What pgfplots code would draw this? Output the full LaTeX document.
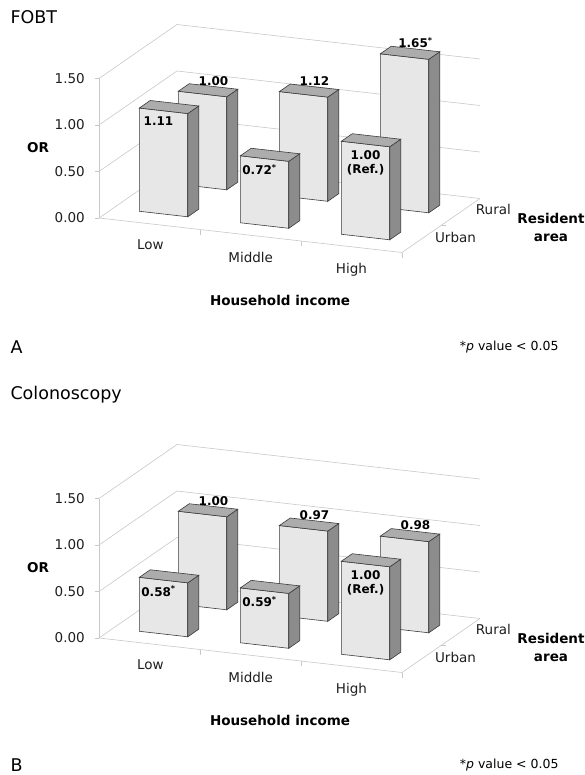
\documentclass[border=0pt]{standalone}
\usepackage{pgfplots}
\pgfplotsset{compat=1.18}
\usepackage{fontspec}
\setmainfont{DejaVu Sans}
\definecolor{frontc}{RGB}{231,231,231}
\definecolor{sidec}{RGB}{140,140,140}
\definecolor{topc}{RGB}{172,172,172}
\definecolor{edgec}{RGB}{60,60,60}
\definecolor{gridc}{RGB}{200,200,200}
\definecolor{textc}{RGB}{30,30,30}
\newcommand\regf{\fontsize{13.5}{15}\selectfont}
\newcommand\boldf{\fontsize{13.5}{18}\selectfont\bfseries}
\newcommand\valf{\fontsize{12}{14.5}\selectfont\bfseries}
\newcommand\titf{\fontsize{17.5}{20}\selectfont}
\newcommand\pf{\fontsize{12.5}{15}\selectfont}
% one 3D column: centre X, centre Y, height H
\newcommand\cube[3]{%
  \pgfmathsetmacro\xa{#1-0.24}\pgfmathsetmacro\xb{#1+0.24}%
  \pgfmathsetmacro\ya{#2-0.14}\pgfmathsetmacro\yb{#2+0.14}%
  \edef\tmp{%
    \noexpand\addplot3[fill=frontc,draw=edgec,line width=0.6pt] coordinates {(\xa,\ya,0) (\xb,\ya,0) (\xb,\ya,#3) (\xa,\ya,#3)} -- cycle;
    \noexpand\addplot3[fill=sidec,draw=edgec,line width=0.6pt] coordinates {(\xb,\ya,0) (\xb,\yb,0) (\xb,\yb,#3) (\xb,\ya,#3)} -- cycle;
    \noexpand\addplot3[fill=topc,draw=edgec,line width=0.6pt] coordinates {(\xa,\ya,#3) (\xb,\ya,#3) (\xb,\yb,#3) (\xa,\yb,#3)} -- cycle;
  }\tmp}
\pgfplotsset{panel/.style={
  anchor=origin,
  x={(101pt,-11.5pt)}, y={(39pt,27pt)}, z={(0pt,93pt)},
  xmin=0,xmax=3,ymin=0,ymax=2,zmin=0,zmax=1.5,
  axis line style={draw=none},
  xtick={0.5,1.5,2.5}, xticklabels={Low,Middle,High},
  ytick={0.5,1.5}, yticklabels={Urban,Rural},
  ztick={0,0.5,1,1.5}, zticklabels={},
  major tick length=0pt,
  zmajorgrids, grid style={draw=gridc,line width=0.6pt},
  tick label style={font=\regf, text=textc},
  x tick label style={xshift=6pt,yshift=-11pt},
  y tick label style={xshift=20pt,yshift=17pt},
  clip=false,
}}
\newcommand\axframe{%
  \draw[gridc,line width=0.6pt] (axis cs:0,0,0) -- (axis cs:0,0,1.5);
  \draw[gridc,line width=0.6pt] (axis cs:0,0,0) -- (axis cs:3,0,0) -- (axis cs:3,2,0);
  \draw[gridc,line width=0.6pt] (axis cs:0,0,0) -- ++(-4pt,0pt);
  \draw[gridc,line width=0.6pt] (axis cs:0,0,0.5) -- ++(-4pt,0pt);
  \draw[gridc,line width=0.6pt] (axis cs:0,0,1) -- ++(-4pt,0pt);
  \draw[gridc,line width=0.6pt] (axis cs:0,0,1.5) -- ++(-4pt,0pt);
  \draw[gridc,line width=0.6pt] (axis cs:1,0,0) -- ++(0pt,-5pt);
  \draw[gridc,line width=0.6pt] (axis cs:2,0,0) -- ++(0pt,-5pt);
  \draw[gridc,line width=0.6pt] (axis cs:3,0,0) -- ++(0pt,-5pt);
  \draw[gridc,line width=0.6pt] (axis cs:3,1,0) -- ++(5pt,0pt);
  \node[font=\regf,text=textc,anchor=east,inner sep=0pt,xshift=-14pt] at (axis cs:0,0,0) {0.00};
  \node[font=\regf,text=textc,anchor=east,inner sep=0pt,xshift=-14pt] at (axis cs:0,0,0.5) {0.50};
  \node[font=\regf,text=textc,anchor=east,inner sep=0pt,xshift=-14pt] at (axis cs:0,0,1) {1.00};
  \node[font=\regf,text=textc,anchor=east,inner sep=0pt,xshift=-14pt] at (axis cs:0,0,1.5) {1.50};
}
\begin{document}
\begin{tikzpicture}
\path[use as bounding box] (0,0) rectangle (585pt,-775pt);
% ---------------- Panel A: FOBT
\begin{axis}[panel, at={(99pt,-218pt)}]
  \axframe
  \cube{0.5}{1.5}{1.00}
  \cube{1.5}{1.5}{1.12}
  \cube{2.5}{1.5}{1.65}
  \cube{0.5}{0.5}{1.11}
  \cube{1.5}{0.5}{0.72}
  \cube{2.5}{0.5}{1.00}
  \node[font=\valf,anchor=south,inner sep=1pt] at (axis cs:0.5,1.64,1.00) {1.00};
  \node[font=\valf,anchor=south,inner sep=1pt] at (axis cs:1.5,1.64,1.12) {1.12};
  \node[font=\valf,anchor=south,inner sep=1pt] at (axis cs:2.5,1.64,1.65) {1.65\textsuperscript{*}};
  \node[font=\valf,anchor=north,inner sep=0pt,yshift=-6pt] at (axis cs:0.45,0.36,1.11) {1.11};
  \node[font=\valf,anchor=north,inner sep=0pt,yshift=-6pt] at (axis cs:1.45,0.36,0.72) {0.72\textsuperscript{*}};
  \node[font=\valf,anchor=north,inner sep=0pt,yshift=-6pt,align=center] at (axis cs:2.5,0.36,1.00) {1.00\\(Ref.)};
\end{axis}
\node[anchor=west,font=\titf] at (7pt,-17pt) {FOBT};
\node[font=\boldf] at (38pt,-148pt) {OR};
\node[font=\boldf] at (280pt,-300pt) {Household income};
\node[font=\boldf,align=center] at (551pt,-227pt) {Resident\\area};
\node[anchor=west,font=\titf] at (7pt,-347pt) {A};
\node[anchor=east,font=\pf] at (562pt,-347pt) {*\textit{p} value < 0.05};
% ---------------- Panel B: Colonoscopy
\begin{axis}[panel, at={(99pt,-638pt)}]
  \axframe
  \cube{0.5}{1.5}{1.00}
  \cube{1.5}{1.5}{0.97}
  \cube{2.5}{1.5}{0.98}
  \cube{0.5}{0.5}{0.58}
  \cube{1.5}{0.5}{0.59}
  \cube{2.5}{0.5}{1.00}
  \node[font=\valf,anchor=south,inner sep=1pt] at (axis cs:0.5,1.64,1.00) {1.00};
  \node[font=\valf,anchor=south,inner sep=1pt] at (axis cs:1.5,1.64,0.97) {0.97};
  \node[font=\valf,anchor=south,inner sep=1pt] at (axis cs:2.5,1.64,0.98) {0.98};
  \node[font=\valf,anchor=north,inner sep=0pt,yshift=-6pt] at (axis cs:0.45,0.36,0.58) {0.58\textsuperscript{*}};
  \node[font=\valf,anchor=north,inner sep=0pt,yshift=-6pt] at (axis cs:1.45,0.36,0.59) {0.59\textsuperscript{*}};
  \node[font=\valf,anchor=north,inner sep=0pt,yshift=-6pt,align=center] at (axis cs:2.5,0.36,1.00) {1.00\\(Ref.)};
\end{axis}
\node[anchor=west,font=\titf] at (7pt,-395pt) {Colonoscopy};
\node[font=\boldf] at (38pt,-568pt) {OR};
\node[font=\boldf] at (280pt,-720pt) {Household income};
\node[font=\boldf,align=center] at (551pt,-647pt) {Resident\\area};
\node[anchor=west,font=\titf] at (7pt,-765pt) {B};
\node[anchor=east,font=\pf] at (562pt,-765pt) {*\textit{p} value < 0.05};
\end{tikzpicture}
\end{document}
